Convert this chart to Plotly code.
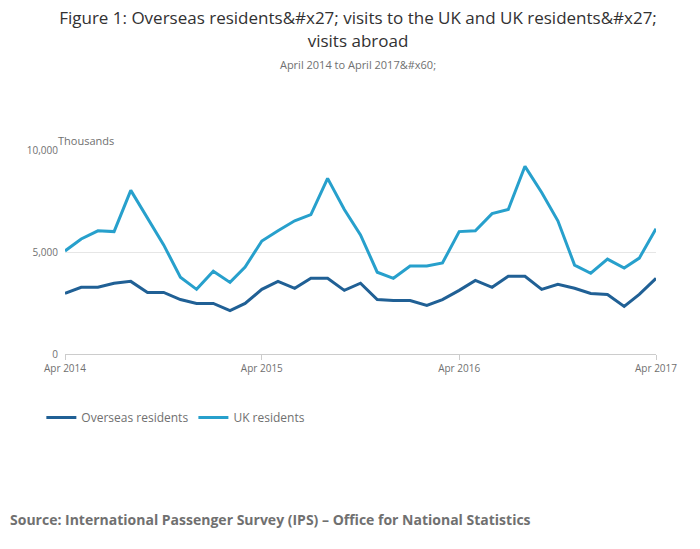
import pandas as pd
import plotly.graph_objects as go

overseas = [2970, 3270, 3270, 3470, 3560, 3020, 3020, 2670, 2480, 2480, 2130, 2480,
            3170, 3560, 3220, 3710, 3710, 3120, 3470, 2670, 2620, 2620, 2380, 2670,
            3120, 3610, 3270, 3810, 3810, 3170, 3420, 3220, 2970, 2920, 2330, 2920, 3710]
uk = [5050, 5640, 6040, 6000, 8020, 6630, 5350, 3760, 3170, 4060, 3510, 4260,
      5540, 6040, 6530, 6830, 8610, 7080, 5840, 4010, 3710, 4310, 4310, 4460,
      6000, 6040, 6880, 7080, 9200, 7920, 6530, 4360, 3960, 4650, 4210, 4700, 6140]

df = pd.DataFrame({'Overseas residents': overseas, 'UK residents': uk},
                  index=pd.date_range('2014-04-01', periods=37, freq='MS'))

fig = go.Figure(data=[go.Scatter(x=df.index, y=df['Overseas residents'], mode='lines', name='Overseas residents', line=dict(color='#206095', width=3)),
                      go.Scatter(x=df.index, y=df['UK residents'], mode='lines', name='UK residents', line=dict(color='#27a0cc', width=3))])

fig.update_layout(
    width=700, height=549, plot_bgcolor='white', paper_bgcolor='white',
    font=dict(family='Open Sans', color='#707070', size=10),
    title=dict(text="Figure 1: Overseas residents&amp;#x27; visits to the UK and UK residents&amp;#x27;<br>visits abroad"
                    "<br><span style='font-size:11px;color:#707070'>April 2014 to April 2017&amp;#x60;</span>",
               x=0.5, y=0.97, yanchor='top', font=dict(size=17, color='#323132')),
    margin=dict(l=57, r=52, t=142, b=203),
    legend=dict(orientation='h', x=-0.04, y=-0.24, xanchor='left', yanchor='top', font=dict(size=12, color='#707070')),
    showlegend=True,
)
fig.update_xaxes(tickvals=pd.to_datetime(['2014-04-01', '2015-04-01', '2016-04-01', '2017-04-01']),
                 ticktext=['Apr 2014', 'Apr 2015', 'Apr 2016', 'Apr 2017'],
                 showgrid=False, showline=True, linecolor='#cccccc', ticks='outside', tickcolor='#cccccc', ticklen=5,
                 range=[pd.Timestamp('2014-04-01'), pd.Timestamp('2017-04-01')])
fig.update_yaxes(range=[0, 10000], tickvals=[0, 5000, 10000], tickformat=',', gridcolor='#e6e6e6', zeroline=False,
                 ticks='outside', tickcolor='white', ticklen=4)
fig.add_annotation(text='Thousands', xref='paper', yref='paper', x=-0.015, y=1.0, xanchor='left', yanchor='bottom', showarrow=False, font=dict(size=11, color='#707070'))
fig.add_annotation(text='<b>Source: International Passenger Survey (IPS) – Office for National Statistics</b>', xref='paper', yref='paper',
                   x=-0.097, y=-0.755, xanchor='left', yanchor='top', showarrow=False, font=dict(size=14, color='#707070'))

# Save the figure as an HTML file
fig.write_html('out.html')
